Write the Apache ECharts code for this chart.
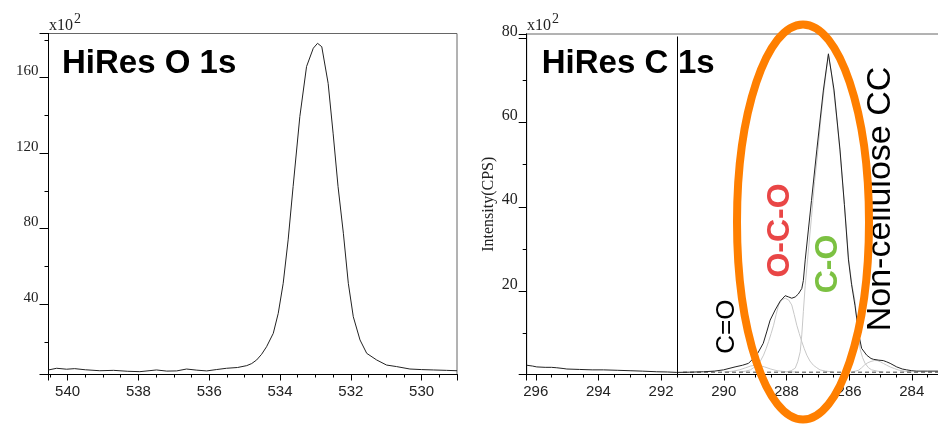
<!DOCTYPE html>
<html>
<head>
<meta charset="utf-8">
<script src="https://cdn.jsdelivr.net/npm/echarts@6/dist/echarts.min.js"></script>
<style>
    html, body { margin: 0; padding: 0; background: #fff; }
    #chart { width: 938px; height: 425px; }
</style>
</head>
<body>
<div id="chart"></div>
<script>
    // O 1s: [binding energy (eV), counts x10^2]
    var o1s = [
        [540.54, 5.2], [540.31, 6.1], [540.03, 5.6], [539.8, 5.9], [539.5, 5.3], [539.09, 4.8],
        [538.7, 5.0], [538.3, 4.5], [537.96, 4.3], [537.7, 4.8], [537.49, 5.2], [537.2, 4.6],
        [536.92, 4.7], [536.64, 5.7], [536.35, 5.1], [536.07, 4.7], [535.8, 5.4], [535.51, 6.1],
        [535.2, 6.5], [534.94, 7.5], [534.8, 8.6], [534.66, 10.5], [534.52, 13.5], [534.38, 17.5],
        [534.19, 24.6], [534.05, 35.2], [533.91, 51.1], [533.77, 74.1], [533.63, 102.3], [533.44, 139.4],
        [533.25, 165.9], [533.06, 175.6], [532.94, 178.2], [532.82, 176.4], [532.64, 157.0], [532.5, 130.6],
        [532.36, 102.3], [532.21, 77.6], [532.07, 51.1], [531.93, 33.4], [531.74, 21.1], [531.55, 14.0],
        [531.27, 10.5], [530.99, 7.8], [530.71, 7.0], [530.33, 5.7], [530.0, 5.4], [529.67, 5.2],
        [529.3, 5.0], [529.0, 4.8]
    ];

    // C 1s envelope
    var c1s = [
        [296.29, 2.4], [296.1, 2.2], [295.97, 2.0], [295.7, 1.9], [295.5, 1.9], [295.33, 1.8],
        [295.1, 1.6], [295.01, 1.5], [294.6, 1.4], [294.2, 1.3], [293.84, 1.3], [293.4, 1.2],
        [292.99, 1.1], [292.6, 1.0], [292.14, 0.85], [291.8, 0.8], [291.5, 0.7], [291.1, 0.75],
        [290.65, 0.85], [290.3, 1.0], [290.01, 1.3], [289.64, 2.0], [289.4, 2.4], [289.21, 2.85],
        [288.95, 4.8], [288.74, 7.6], [288.63, 10.3], [288.52, 13.1], [288.36, 15.5], [288.2, 17.6],
        [288.04, 18.9], [287.93, 18.6], [287.83, 18.3], [287.72, 18.6], [287.62, 19.3], [287.51, 20.6],
        [287.46, 22.5], [287.4, 27.4], [287.3, 34.5], [287.2, 41.5], [287.03, 53.5], [286.82, 67.7],
        [286.66, 76.3], [286.48, 67.7], [286.29, 53.5], [286.15, 40.5], [286.02, 27.4], [285.92, 21.5],
        [285.81, 16.5], [285.75, 13.1], [285.7, 10.0], [285.6, 6.4], [285.44, 4.8], [285.3, 4.0],
        [285.22, 3.8], [285.05, 3.6], [284.91, 3.5], [284.8, 3.2], [284.69, 2.85], [284.48, 2.0],
        [284.3, 1.5], [284.16, 1.3], [284.0, 1.1], [283.84, 1.0], [283.5, 1.0], [283.14, 1.0]
    ];

    // fitted components
    var compOCO = [
        [289.5, 0.8], [289.3, 1.0], [289.15, 1.3], [289.05, 1.8], [288.94, 2.4], [288.83, 3.4],
        [288.73, 4.8], [288.65, 6.3], [288.57, 8.0], [288.49, 9.9], [288.41, 11.9], [288.33, 14.4],
        [288.25, 16.7], [288.15, 17.9], [288.04, 18.3], [287.93, 17.9], [287.83, 16.7], [287.75, 14.4],
        [287.67, 11.9], [287.59, 9.9], [287.51, 8.0], [287.43, 6.3], [287.35, 4.8], [287.25, 3.4],
        [287.14, 2.4], [287.03, 1.8], [286.93, 1.3], [286.75, 1.0], [286.5, 0.8]
    ];
    var compCO = [
        [288.0, 0.8], [287.85, 1.1], [287.72, 1.7], [287.64, 3.2], [287.56, 5.6], [287.51, 9.6],
        [287.46, 15.1], [287.4, 21.4], [287.3, 29.5], [287.2, 37.5], [287.1, 46], [287.0, 53],
        [286.9, 61], [286.82, 66.5], [286.74, 71.5], [286.66, 76], [286.57, 72], [286.48, 66.5],
        [286.38, 60], [286.29, 53], [286.2, 45], [286.1, 36], [286.02, 28], [285.92, 22],
        [285.81, 17.5], [285.75, 13.1], [285.7, 9.8], [285.65, 6.3], [285.57, 4.2], [285.49, 2.85],
        [285.38, 1.8], [285.28, 1.3], [285.1, 1.0], [284.9, 0.8]
    ];
    var compCC = [
        [285.9, 0.8], [285.7, 1.2], [285.6, 1.8], [285.5, 2.5], [285.4, 3.0], [285.3, 3.3],
        [285.2, 3.5], [285.1, 3.5], [285.0, 3.2], [284.9, 2.8], [284.8, 2.4], [284.69, 2.0],
        [284.55, 1.6], [284.4, 1.2], [284.2, 0.95], [284.0, 0.8]
    ];
    var compCdO = [
        [290.0, 0.8], [289.7, 1.0], [289.5, 1.3], [289.3, 1.8], [289.15, 2.2], [289.0, 2.4],
        [288.85, 2.3], [288.7, 2.0], [288.5, 1.5], [288.3, 1.1], [288.0, 0.85], [287.7, 0.8]
    ];
    var baseline = [[291.3, 0.75], [283.14, 0.75]];
    var cursorEnergy = 291.5;

    function onStep(v, step) {
        return Math.abs(v / step - Math.round(v / step)) < 1e-6;
    }

    function xAxisOf(grid, min, max, step, tickLen, withLabels) {
        return {
            type: 'value', gridIndex: grid, position: 'bottom', inverse: true,
            min: min, max: max, minInterval: step, maxInterval: step, splitNumber: 40,
            axisLine: { show: true, onZero: false, lineStyle: { color: '#000', width: 1 } },
            axisTick: { show: true, length: tickLen, lineStyle: { color: '#000', width: 1 } },
            splitLine: { show: false },
            axisLabel: withLabels ? {
                show: true, margin: 10, color: '#222', fontFamily: 'Liberation Sans', fontSize: 15,
                formatter: function (v) { return onStep(v, 2) ? String(Math.round(v)) : ''; }
            } : { show: false }
        };
    }

    function yAxisOf(grid, min, max, step, tickLen, labelStep, fontSize) {
        return {
            type: 'value', gridIndex: grid, position: 'left',
            min: min, max: max, minInterval: step, maxInterval: step, splitNumber: 40,
            axisLine: { show: true, onZero: false, lineStyle: { color: '#000', width: 1 } },
            axisTick: { show: true, length: tickLen, lineStyle: { color: '#000', width: 1 } },
            splitLine: { show: false },
            axisLabel: labelStep ? {
                show: true, margin: tickLen + 1, color: '#222', fontFamily: 'Liberation Serif', fontSize: fontSize,
                verticalAlign: 'bottom', lineHeight: 13,
                formatter: function (v) { return onStep(v, labelStep) ? String(Math.round(v)) : ''; }
            } : { show: false }
        };
    }

    var chart = echarts.init(document.getElementById('chart'));

    var yMajorRight = yAxisOf(1, 0.2, 81, 20, 8, 20, 16);
    yMajorRight.name = 'Intensity(CPS)';
    yMajorRight.nameLocation = 'middle';
    yMajorRight.nameGap = 30;
    yMajorRight.nameTextStyle = { fontFamily: 'Liberation Serif', fontSize: 16, color: '#222' };

    var thin = { color: '#c8c8c8', width: 1 };

    chart.setOption({
        animation: false,
        grid: [
            { left: 48.5, top: 33.5, width: 408.5, height: 341, show: true, borderColor: '#666', borderWidth: 1, containLabel: false, outerBoundsMode: 'none' },
            { left: 526.7, top: 34, width: 412, height: 340.5, show: true, borderColor: '#666', borderWidth: 1, containLabel: false, outerBoundsMode: 'none' }
        ],
        xAxis: [
            xAxisOf(0, 529.0, 540.54, 2, 6, true),
            xAxisOf(0, 529.0, 540.54, 0.5, 3, false),
            xAxisOf(1, 283.14, 296.29, 2, 6, true),
            xAxisOf(1, 283.14, 296.29, 0.5, 3, false)
        ],
        yAxis: [
            yAxisOf(0, 2.8, 183.4, 40, 9, 40, 15),
            yAxisOf(0, 2.8, 183.4, 20, 4, 0, 15),
            yMajorRight,
            yAxisOf(1, 0.2, 81, 10, 4, 0, 16)
        ],
        series: [
            { name: 'O 1s', type: 'line', xAxisIndex: 0, yAxisIndex: 0, data: o1s, showSymbol: false, lineStyle: { color: '#222', width: 1 }, z: 3 },
            { name: 'C=O', type: 'line', xAxisIndex: 2, yAxisIndex: 2, data: compCdO, showSymbol: false, lineStyle: thin, z: 2 },
            { name: 'O-C-O', type: 'line', xAxisIndex: 2, yAxisIndex: 2, data: compOCO, showSymbol: false, lineStyle: thin, z: 2 },
            { name: 'C-O', type: 'line', xAxisIndex: 2, yAxisIndex: 2, data: compCO, showSymbol: false, lineStyle: thin, z: 2 },
            { name: 'CC', type: 'line', xAxisIndex: 2, yAxisIndex: 2, data: compCC, showSymbol: false, lineStyle: thin, z: 2 },
            { name: 'baseline', type: 'line', xAxisIndex: 2, yAxisIndex: 2, data: baseline, showSymbol: false, lineStyle: { color: '#444', width: 1, type: [4, 3] }, z: 2 },
            {
                name: 'C 1s', type: 'line', xAxisIndex: 2, yAxisIndex: 2, data: c1s, showSymbol: false,
                lineStyle: { color: '#222', width: 1 }, z: 3,
                markLine: {
                    silent: true, symbol: 'none', label: { show: false },
                    lineStyle: { color: '#000', width: 1, type: 'solid' },
                    data: [[{ coord: [cursorEnergy, 80.4] }, { coord: [cursorEnergy, 0.2] }]]
                }
            }
        ],
        graphic: [
            { type: 'text', left: 62, top: 47, z: 50, style: { text: 'HiRes O 1s', font: 'bold 33px "Liberation Sans"', fill: '#000' } },
            { type: 'text', left: 541.7, top: 47, z: 50, style: { text: 'HiRes C', font: 'bold 33px "Liberation Sans"', fill: '#000' } },
            { type: 'text', left: 678, top: 47, z: 50, style: { text: '1s', font: 'bold 33px "Liberation Sans"', fill: '#000' } },
            { type: 'text', left: 49, top: 18, z: 50, style: { text: 'x10', font: '16px "Liberation Serif"', fill: '#222' } },
            { type: 'text', left: 74, top: 12, z: 50, style: { text: '2', font: '14px "Liberation Serif"', fill: '#222' } },
            { type: 'text', left: 527, top: 18, z: 50, style: { text: 'x10', font: '16px "Liberation Serif"', fill: '#222' } },
            { type: 'text', left: 552, top: 12, z: 50, style: { text: '2', font: '14px "Liberation Serif"', fill: '#222' } },
            { type: 'text', x: 726.7, y: 326.7, rotation: Math.PI / 2, z: 50, style: { text: 'C=O', font: '26px "Liberation Sans"', fill: '#000', align: 'center', verticalAlign: 'middle' } },
            { type: 'text', x: 780.5, y: 230.5, rotation: Math.PI / 2, z: 50, style: { text: 'O-C-O', font: 'bold 32px "Liberation Sans"', fill: '#e94646', align: 'center', verticalAlign: 'middle' } },
            { type: 'text', x: 828, y: 264, rotation: Math.PI / 2, z: 50, style: { text: 'C-O', font: 'bold 32px "Liberation Sans"', fill: '#7cc142', align: 'center', verticalAlign: 'middle' } },
            { type: 'text', x: 880.5, y: 199, rotation: Math.PI / 2, z: 50, style: { text: 'Non-cellulose CC', font: '34px "Liberation Sans"', fill: '#000', align: 'center', verticalAlign: 'middle' } },
            { type: 'ellipse', z: 100, shape: { cx: 803, cy: 222, rx: 66, ry: 197.5 }, style: { fill: 'none', stroke: '#ff7f00', lineWidth: 8 } }
        ]
    });
</script>
</body>
</html>
